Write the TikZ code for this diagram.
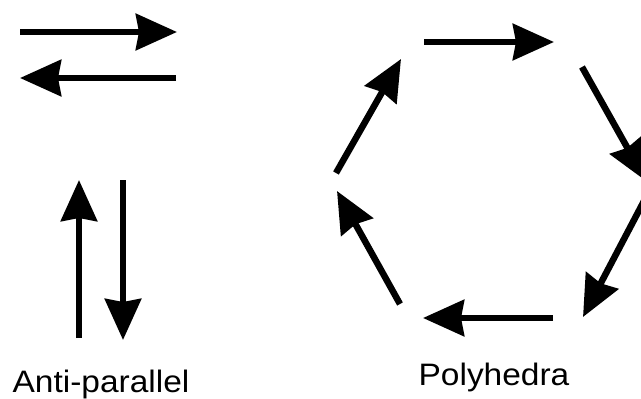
\documentclass[tikz,border=0pt]{standalone}
\usepackage{fontspec}
\newfontfamily\labelfont[FakeStretch=1.08]{Liberation Sans}
\usetikzlibrary{arrows.meta}
\tikzset{
  arr/.style={line width=6.5pt, -{Stealth[length=41pt,width=36pt,inset=3pt]}},
  lbl/.style={anchor=base, inner sep=0pt, font=\labelfont\fontsize{31}{36}\selectfont}
}
\begin{document}
\begin{tikzpicture}[x=1pt,y=-1pt]
\useasboundingbox (0,0) rectangle (641,399);

% anti-parallel pairs
\coordinate (ra) at (20,32);
\coordinate (rb) at (177,32);
\coordinate (la) at (176,78);
\coordinate (lb) at (20,78);
\coordinate (ua) at (79,338);
\coordinate (ub) at (79,180);
\coordinate (da) at (123,180);
\coordinate (db) at (123,340);
\draw[arr] (ra) -- (rb);
\draw[arr] (la) -- (lb);
\draw[arr] (ua) -- (ub);
\draw[arr] (da) -- (db);

% hexagon
\coordinate (h1a) at (424,42);
\coordinate (h1b) at (554,42);
\coordinate (h2a) at (582,67);
\coordinate (h2b) at (646,181);
\coordinate (h3a) at (644,201);
\coordinate (h3b) at (583,317);
\coordinate (h4a) at (553,318);
\coordinate (h4b) at (423,318);
\coordinate (h5a) at (400,304);
\coordinate (h5b) at (337,191);
\coordinate (h6a) at (336,173);
\coordinate (h6b) at (401,59);
\draw[arr] (h1a) -- (h1b);
\draw[arr] (h2a) -- (h2b);
\draw[arr] (h3a) -- (h3b);
\draw[arr] (h4a) -- (h4b);
\draw[arr] (h5a) -- (h5b);
\draw[arr] (h6a) -- (h6b);

\node[lbl] (anti) at (101,392) {Anti-parallel};
\node[lbl] (poly) at (494,385) {Polyhedra};
\end{tikzpicture}
\end{document}
